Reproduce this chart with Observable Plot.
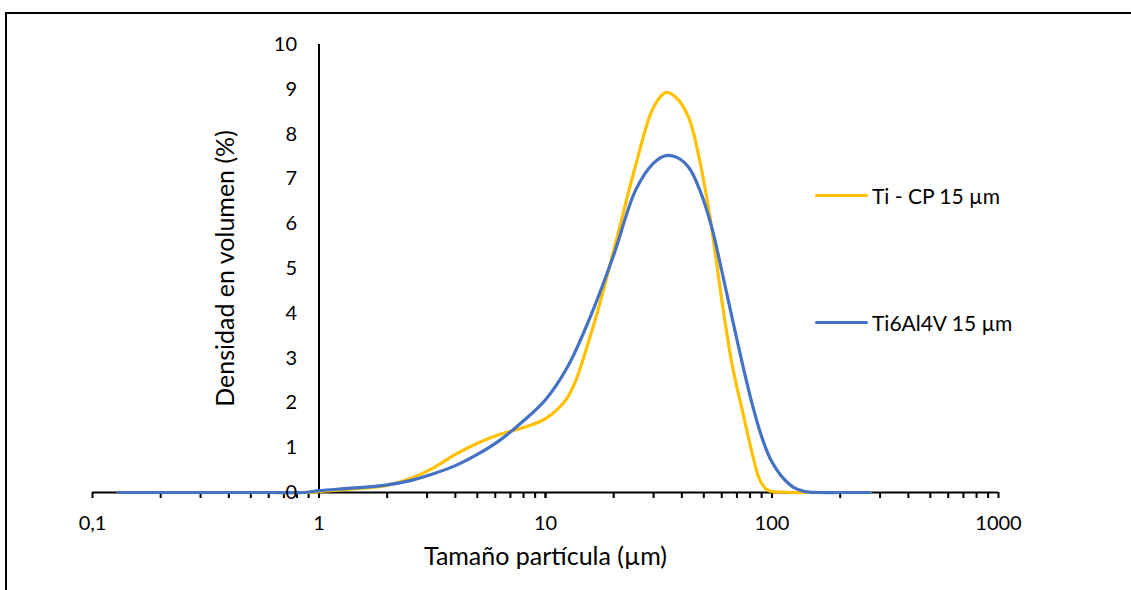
<!DOCTYPE html>
<html>
<head>
<meta charset="utf-8">
<script src="https://cdn.jsdelivr.net/npm/d3@7"></script>
<script src="https://cdn.jsdelivr.net/npm/@observablehq/plot@0.6"></script>
<style>
  html, body { margin: 0; padding: 0; background: #fff; }
  #wrap { position: relative; width: 1131px; height: 590px; overflow: hidden; font-family: Lato, "Open Sans", sans-serif; }
  #frame { position: absolute; left: 5px; top: 12px; width: 1140px; height: 600px; border: 2px solid #000; box-sizing: border-box; pointer-events: none; }
  .leg { position: absolute; left: 815px; display: flex; align-items: center; font-size: 21px; color: #000; }
  .leg .sw { width: 53px; height: 3px; border-radius: 2px; margin-right: 4px; }
  svg { position: absolute; left: 0; top: 0; }
</style>
</head>
<body>
<div id="wrap">
  <div id="chart"></div>
  <div id="frame"></div>
  <div id="legend"></div>
</div>
<script>
const seriesNames = ["Ti - CP 15 µm", "Ti6Al4V 15 µm"];
const seriesColors = ["#FFC000", "#4472C4"];
const sizes = [0.13, 0.3, 0.6, 0.85, 1, 1.25, 1.6, 2, 2.5, 3.2, 4, 5, 6.3, 8, 10, 12.5, 16, 20, 25, 30, 34, 38, 43, 48, 54, 60, 67, 75, 82, 88, 94, 100, 112, 125, 140, 160, 200, 272];
const tiCP =    [0, 0, 0, 0, 0.02, 0.06, 0.1, 0.16, 0.3, 0.55, 0.85, 1.1, 1.3, 1.45, 1.65, 2.12, 3.6, 5.4, 7.3, 8.6, 8.93, 8.8, 8.35, 7.4, 5.95, 4.3, 2.8, 1.7, 0.85, 0.3, 0.08, 0.02, 0.01, 0, 0, 0, 0, 0];
const ti6Al4V = [0, 0, 0, 0, 0.04, 0.08, 0.12, 0.17, 0.26, 0.42, 0.6, 0.85, 1.17, 1.6, 2.07, 2.8, 4.0, 5.3, 6.75, 7.35, 7.52, 7.48, 7.25, 6.75, 5.95, 4.95, 3.85, 2.75, 1.95, 1.4, 0.98, 0.68, 0.32, 0.11, 0.02, 0, 0, 0];
const xTickValues = [0.1, 1, 10, 100, 1000];
const xTickLabels = ["0,1", "1", "10", "100", "1000"];
const yTickValues = [0, 1, 2, 3, 4, 5, 6, 7, 8, 9, 10];
const xTitle = "Tamaño partícula (µm)";
const yTitle = "Densidad en volumen (%)";

const seriesValues = [tiCP, ti6Al4V];
const data = [];
seriesNames.forEach((name, s) => sizes.forEach((x, i) => data.push({series: name, x, y: seriesValues[s][i]})));

const minorTicks = [];
for (let e = -1; e < 3; e++) for (let k = 1; k <= 10; k++) minorTicks.push(k * Math.pow(10, e));

const font = "Lato, 'Open Sans', sans-serif";
const chart = Plot.plot({
  width: 1131,
  height: 590,
  marginLeft: 92,
  marginRight: 133,
  marginTop: 44,
  marginBottom: 98,
  style: {fontFamily: font, fontSize: "20px", color: "#000", background: "transparent"},
  x: {type: "log", domain: [0.1, 1000], axis: null},
  y: {type: "linear", domain: [0, 10], axis: null},
  color: {domain: seriesNames, range: seriesColors},
  marks: [
    Plot.ruleY([0], {x1: 0.1, x2: 1000, stroke: "#000", strokeWidth: 2}),
    Plot.ruleX(minorTicks, {x: d => d, y1: 0, y2: 0, insetBottom: -6, stroke: "#000", strokeWidth: 2}),
    Plot.ruleX([1], {y1: 0, y2: 10, stroke: "#000", strokeWidth: 2}),
    Plot.line(data, {x: "x", y: "y", z: "series", stroke: "series", strokeWidth: 3.2, curve: "catmull-rom", strokeLinejoin: "round"}),
    Plot.text(xTickValues, {x: d => d, y: 0, text: (d, i) => xTickLabels[i], dy: 31, fill: "#000", fontSize: 20}),
    Plot.text(yTickValues, {x: 1, y: d => d, text: d => String(d), dx: -22, textAnchor: "end", fill: "#000", fontSize: 20}),
    Plot.text([xTitle], {frameAnchor: "bottom", dy: 72, fill: "#000", fontSize: 25}),
    Plot.text([yTitle], {frameAnchor: "left", dx: 133, rotate: -90, textAnchor: "middle", fill: "#000", fontSize: 25})
  ]
});
document.getElementById("chart").appendChild(chart);

const legend = document.getElementById("legend");
const legendY = [195, 322];
seriesNames.forEach((name, i) => {
  const d = document.createElement("div");
  d.className = "leg";
  d.style.top = (legendY[i] - 13) + "px";
  d.style.height = "26px";
  d.innerHTML = `<span class="sw" style="background:${seriesColors[i]}"></span><span>${name}</span>`;
  legend.appendChild(d);
});
</script>
</body>
</html>
